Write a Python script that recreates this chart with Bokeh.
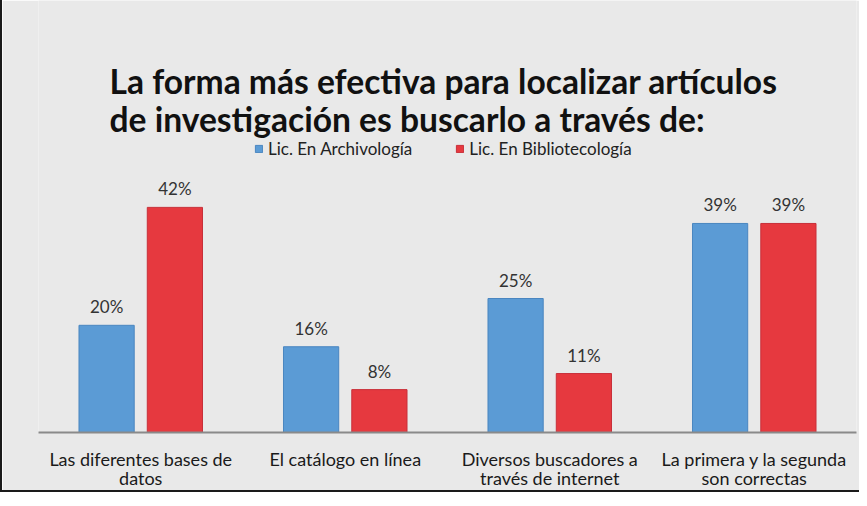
from bokeh.plotting import figure
from bokeh.models import ColumnDataSource, FixedTicker, Label, Legend, LegendItem, Range1d
from bokeh.core.properties import value
from bokeh.embed import file_html
from bokeh.resources import INLINE

categories = [
    "Las diferentes bases de\ndatos",
    "El catálogo en línea",
    "Diversos buscadores a\ntravés de internet",
    "La primera y la segunda\nson correctas",
]
archivologia = [20, 16, 25, 39]
bibliotecologia = [42, 8, 11, 39]
series_names = ["Lic. En Archivología", "Lic. En Bibliotecología"]
title_lines = [
    "La forma más efectiva para localizar artículos",
    "de investigación es buscarlo a través de:",
]

BLUE = "#5b9bd5"
RED = "#e6393f"
BG = "#e9e9e9"
FONT = "Lato"

n = len(categories)
centers = [i + 0.5 for i in range(n)]
off = 0.167
bw = 0.27

src_a = ColumnDataSource(dict(x=[c - off for c in centers], top=archivologia,
                              lab=[f"{v}%" for v in archivologia]))
src_b = ColumnDataSource(dict(x=[c + off for c in centers], top=bibliotecologia,
                              lab=[f"{v}%" for v in bibliotecologia]))

p = figure(width=859, height=492, output_backend="svg", toolbar_location=None,
           x_range=Range1d(0, n), y_range=Range1d(0, 80.6),
           min_border_left=36, min_border_right=5, min_border_top=0, min_border_bottom=50,
           background_fill_color=BG, border_fill_color=BG, outline_line_color=None)
p.styles = {"border-left": "2px solid #1a1a1a", "border-bottom": "2px solid #1a1a1a"}

r_a = p.vbar(x="x", top="top", width=bw, source=src_a, fill_color=BLUE, line_color="#4a86c0")
r_b = p.vbar(x="x", top="top", width=bw, source=src_b, fill_color=RED, line_color="#c8303a")

for src in (src_a, src_b):
    p.text(x="x", y="top", text="lab", source=src, text_align="center",
           text_baseline="bottom", y_offset=-8, text_font=value(FONT),
           text_font_size="17px", text_color="#333333")

p.grid.visible = False
p.yaxis.visible = False
p.xaxis.ticker = FixedTicker(ticks=centers)
p.xaxis.major_label_overrides = {c: lab for c, lab in zip(centers, categories)}
p.xaxis.major_tick_line_color = None
p.xaxis.minor_tick_line_color = None
p.xaxis.major_tick_out = 0
p.xaxis.axis_line_color = "#8a8a8a"
p.xaxis.axis_line_width = 2
p.xaxis.major_label_text_font = FONT
p.xaxis.major_label_text_font_size = "18px"
p.xaxis.major_label_text_line_height = 0.9
p.xaxis.major_label_text_color = "#1a1a1a"
p.xaxis.major_label_standoff = 15

legend = Legend(items=[LegendItem(label=series_names[0], renderers=[r_a]),
                       LegendItem(label=series_names[1], renderers=[r_b])],
                orientation="horizontal", location=(216, 273),
                glyph_width=9, glyph_height=9, label_text_font=FONT,
                label_text_font_size="17px", label_text_color="#222222",
                background_fill_alpha=0, border_line_color=None,
                padding=0, margin=0, spacing=43, label_standoff=5)
p.add_layout(legend, "center")

for line, ypos in zip(title_lines, [352, 314]):
    p.add_layout(Label(x=71, y=ypos, x_units="screen", y_units="screen", text=line,
                       text_font=FONT, text_font_size="33.6px", text_font_style="bold",
                       text_color="#111111", text_baseline="middle"))

open("out.html", "w").write(file_html(p, INLINE))
